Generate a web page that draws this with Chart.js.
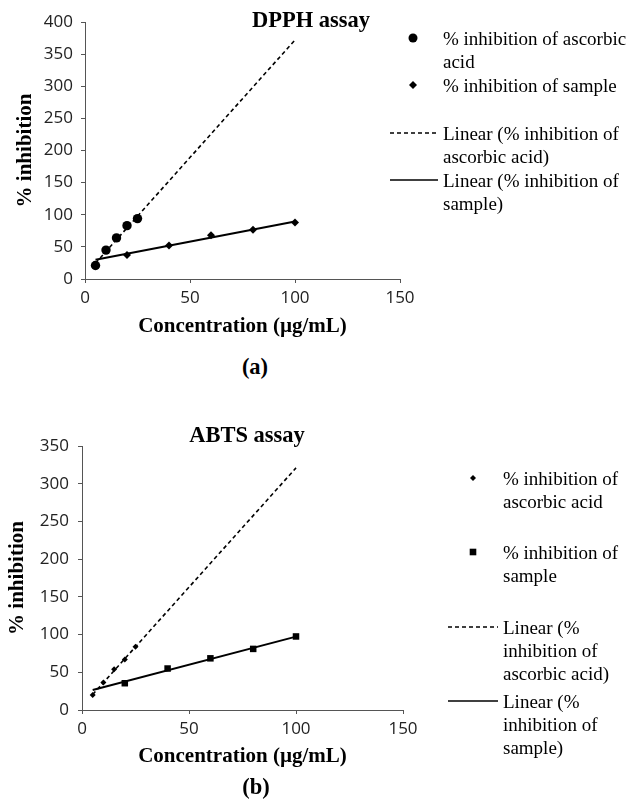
<!DOCTYPE html>
<html><head><meta charset="utf-8">
<script src="https://cdn.jsdelivr.net/npm/chart.js@4.4.1/dist/chart.umd.min.js"></script>
<style>
html,body{margin:0;padding:0;background:#fff;}
#page{position:relative;width:642px;height:807px;overflow:hidden;background:#fff;}
canvas{position:absolute;left:0;}
.t{position:absolute;transform:translate(-50%,-50%);white-space:nowrap;font-family:"Liberation Serif","Times New Roman",serif;font-weight:bold;color:#000;}
.lg{position:absolute;font-family:"Liberation Serif","Times New Roman",serif;font-size:19px;line-height:23px;color:#000;white-space:nowrap;}
#sym{position:absolute;left:0;top:0;pointer-events:none;}
</style></head><body>
<div id="page">
<canvas id="cA" width="642" height="345" style="top:0px"></canvas>
<canvas id="cB" width="642" height="407" style="top:400px"></canvas>
<div class="t" style="left:311px;top:20px;font-size:22.5px">DPPH assay</div>
<div class="t" style="left:255px;top:367px;font-size:22.5px">(a)</div>
<div class="t" style="left:247px;top:435px;font-size:22.5px">ABTS assay</div>
<div class="t" style="left:256px;top:787px;font-size:22.5px">(b)</div>
<svg id="sym" width="642" height="807"></svg>
</div>
<script>
// ---- data ----
const concAscorbic = [5, 10, 15, 20, 25];
const concSample = [20, 40, 60, 80, 100];
const trendX = [5, 100];

const dpphAscorbic = [21, 45, 64, 83, 94];
const dpphSample = [37.5, 52, 68, 76.5, 88];
const dpphAscorbicTrend = [24.6, 372];
const dpphSampleTrend = [29.8, 89.5];

const abtsAscorbic = [20, 36.5, 54, 67, 84];
const abtsSample = [35.5, 55, 68.5, 81, 97.5];
const abtsAscorbicTrend = [20.5, 321];
const abtsSampleTrend = [26.4, 97.3];

const xTicks = [0, 50, 100, 150];
const dpphYMax = 400;
const abtsYMax = 350;

const xTitle = 'Concentration (µg/mL)';
const yTitle = '% inhibition';

const legendA = [
  ['% inhibition of ascorbic', 'acid'],
  ['% inhibition of sample'],
  ['Linear (% inhibition of', 'ascorbic acid)'],
  ['Linear (% inhibition of', 'sample)']
];
const legendB = [
  ['% inhibition of', 'ascorbic acid'],
  ['% inhibition of', 'sample'],
  ['Linear (%', 'inhibition of', 'ascorbic acid)'],
  ['Linear (%', 'inhibition of', 'sample)']
];

function zip(xs, ys) { return xs.map((x, i) => ({x: x, y: ys[i]})); }

function makeChart(id, c) {
  const tickFont = {family: 'Open Sans', size: 17};
  const titleFont = {family: 'Liberation Serif', size: 21, weight: 'bold'};
  return new Chart(document.getElementById(id), {
    type: 'scatter',
    data: {datasets: [
      {label: c.legend[2].join(' '), data: zip(trendX, c.ascTrend), showLine: true, pointRadius: 0,
       borderColor: '#000', borderWidth: 1.6, borderDash: [4, 3], fill: false},
      {label: c.legend[3].join(' '), data: zip(trendX, c.smpTrend), showLine: true, pointRadius: 0,
       borderColor: '#000', borderWidth: 2, fill: false},
      {label: c.legend[0].join(' '), data: zip(concAscorbic, c.asc), showLine: false,
       pointStyle: c.ascStyle, pointRadius: c.ascR, backgroundColor: '#000', borderColor: '#000', borderWidth: 0},
      {label: c.legend[1].join(' '), data: zip(concSample, c.smp), showLine: false,
       pointStyle: c.smpStyle, pointRadius: c.smpR, backgroundColor: '#000', borderColor: '#000', borderWidth: 0}
    ]},
    options: {
      responsive: false, animation: false, devicePixelRatio: 1,
      layout: {autoPadding: false, padding: c.pad},
      plugins: {legend: {display: false}, tooltip: {enabled: false}},
      scales: {
        x: {type: 'linear', min: xTicks[0], max: xTicks[xTicks.length - 1],
          afterBuildTicks: s => { s.ticks = xTicks.map(v => ({value: v})); },
          ticks: {padding: 5, color: '#222', font: tickFont},
          grid: {display: true, drawOnChartArea: false, drawTicks: true, tickLength: 4, color: '#555', tickColor: '#555'},
          border: {display: true, color: '#555', width: 1},
          title: {display: true, text: xTitle, color: '#000', font: titleFont, padding: {top: 0, bottom: c.xtPad}},
          afterFit: s => { s.height = c.xH; }
        },
        y: {type: 'linear', min: 0, max: c.yMax,
          ticks: {stepSize: 50, padding: c.ytickPad, color: '#222', font: tickFont},
          grid: {display: true, drawOnChartArea: false, drawTicks: true, tickLength: 4, color: '#555', tickColor: '#555'},
          border: {display: true, color: '#555', width: 1},
          title: {display: true, text: yTitle, color: '#000', font: titleFont, padding: {top: c.ytPad, bottom: 0}},
          afterFit: s => { s.width = c.yW; }
        }
      }
    }
  });
}

makeChart('cA', {
  asc: dpphAscorbic, smp: dpphSample, ascTrend: dpphAscorbicTrend, smpTrend: dpphSampleTrend,
  ascStyle: 'circle', ascR: 4.7, smpStyle: 'rectRot', smpR: 4, yMax: dpphYMax, legend: legendA,
  pad: {left: 0, top: 22, right: 242, bottom: 4}, xH: 62, yW: 85, xtPad: 1.5, ytPad: 12.5, ytickPad: 8
});
makeChart('cB', {
  asc: abtsAscorbic, smp: abtsSample, ascTrend: abtsAscorbicTrend, smpTrend: abtsSampleTrend,
  ascStyle: 'rectRot', ascR: 3, smpStyle: 'rect', smpR: 4.6, yMax: abtsYMax, legend: legendB,
  pad: {left: 0, top: 46, right: 239, bottom: 27}, xH: 70, yW: 82, xtPad: 10.5, ytPad: 4.5, ytickPad: 9
});

// ---- legends (HTML text + SVG symbols) ----
const page = document.getElementById('page');
const svg = document.getElementById('sym');
const NS = 'http://www.w3.org/2000/svg';
function el(tag, attrs) { const e = document.createElementNS(NS, tag); for (const k in attrs) e.setAttribute(k, attrs[k]); svg.appendChild(e); }
function symbol(kind, cx, cy, x1, x2) {
  if (kind === 'circle') el('circle', {cx: cx, cy: cy, r: 4.5, fill: '#000'});
  else if (kind === 'diamond') el('polygon', {points: `${cx},${cy-4} ${cx+4},${cy} ${cx},${cy+4} ${cx-4},${cy}`, fill: '#000'});
  else if (kind === 'smalldiamond') el('polygon', {points: `${cx},${cy-3} ${cx+3},${cy} ${cx},${cy+3} ${cx-3},${cy}`, fill: '#000'});
  else if (kind === 'square') el('rect', {x: cx - 3.3, y: cy - 3.3, width: 6.6, height: 6.6, fill: '#000'});
  else if (kind === 'dash') el('line', {x1: x1, y1: cy, x2: x2, y2: cy, stroke: '#000', 'stroke-width': 1.3, 'stroke-dasharray': '4 3'});
  else if (kind === 'solid') el('line', {x1: x1, y1: cy, x2: x2, y2: cy, stroke: '#000', 'stroke-width': 1.6});
}
function legend(items, kinds, textX, symX, lineX1, lineX2, centers) {
  items.forEach((lines, i) => {
    const d = document.createElement('div');
    d.className = 'lg';
    d.style.left = textX + 'px';
    d.style.top = (centers[i] - 11.5) + 'px';
    d.innerHTML = lines.join('<br>');
    page.appendChild(d);
    symbol(kinds[i], symX, centers[i], lineX1, lineX2);
  });
}
legend(legendA, ['circle', 'diamond', 'dash', 'solid'], 443, 413, 390, 438, [38, 85, 133, 180]);
legend(legendB, ['smalldiamond', 'square', 'dash', 'solid'], 503, 473, 448, 498, [478, 552, 627, 701]);
</script>
</body></html>
